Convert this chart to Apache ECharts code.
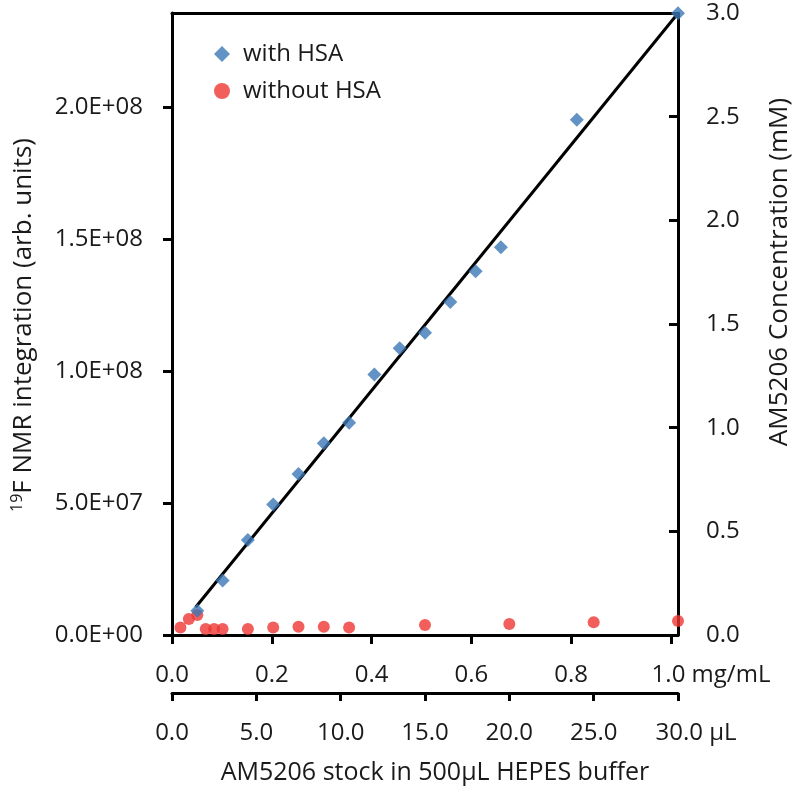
<!DOCTYPE html>
<html><head><meta charset="utf-8">
<script src="https://cdn.jsdelivr.net/npm/echarts@6/dist/echarts.min.js"></script>
<style>html,body{margin:0;padding:0;background:#fff}#c{width:800px;height:795px}</style>
</head><body><div id="c"></div>
<script>
// ---- data ----
const withHSA_uL = [1.5, 3, 4.5, 6, 7.5, 9, 10.5, 12, 13.5, 15, 16.5, 18, 19.5, 24, 30];
const withHSA_int = [9.2e6, 2.06e7, 3.6e7, 4.94e7, 6.10e7, 7.26e7, 8.04e7, 9.87e7, 1.086e8, 1.145e8, 1.261e8, 1.378e8, 1.469e8, 1.952e8, 2.355e8];
const withoutHSA_uL = [0.5, 1, 1.5, 2, 2.5, 3, 4.5, 6, 7.5, 9, 10.5, 15, 20, 25, 30];
const withoutHSA_int = [2.8e6, 6.1e6, 7.6e6, 2.3e6, 2.3e6, 2.3e6, 2.3e6, 2.8e6, 3.1e6, 3.1e6, 2.8e6, 3.8e6, 4.2e6, 4.8e6, 5.3e6];
const fit_uL = [1.4, 30];
const fit_int = [1.05e7, 2.355e8];
const mgTicks = [0, 0.2, 0.4, 0.6, 0.8, 1.0];
const uLTicks = [0, 5, 10, 15, 20, 25, 30];
const intTicks = [0, 5e7, 1e8, 1.5e8, 2e8];
const mMTicks = [0, 0.5, 1.0, 1.5, 2.0, 2.5, 3.0];

const FONT = '"Open Sans", "DejaVu Sans", sans-serif';
const TXT = '#1a1a1a';
const FS = 24;
const TFS = 25;

function sci(v) {
  if (v === 0) return '0.0E+00';
  const e = Math.floor(Math.log10(Math.abs(v)) + 1e-9);
  const m = v / Math.pow(10, e);
  return m.toFixed(1) + 'E+' + String(e).padStart(2, '0');
}
const zip = (xs, ys) => xs.map((x, i) => [x, ys[i]]);

const chart = echarts.init(document.getElementById('c'), null, { renderer: 'canvas' });
const axisLineStyle = { color: '#000', width: 3 };
chart.setOption({
  backgroundColor: '#fff',
  animation: false,
  textStyle: { fontFamily: FONT },
  grid: { left: 172, right: 122, top: 13, bottom: 160, containLabel: false },
  legend: {
    orient: 'vertical', left: 209, top: 37, itemGap: 13,
    itemWidth: 16, itemHeight: 16,
    data: ['with HSA', 'without HSA'],
    textStyle: { fontFamily: FONT, fontSize: FS, color: TXT, padding: [0, 0, 0, 8] }
  },
  xAxis: [
    {
      type: 'value', position: 'bottom', min: 0, max: 1.014,
      axisLine: { show: true, onZero: false, lineStyle: axisLineStyle },
      axisTick: { show: true, inside: false, length: 9, lineStyle: { color: '#000', width: 3 }, customValues: mgTicks },
      axisLabel: {
        customValues: mgTicks, margin: 28, fontSize: FS, color: TXT, fontFamily: FONT,
        formatter: v => v === 1 ? '{p|}{a|1.0}{u| mg/mL}' : v.toFixed(1),
        rich: { p: { width: 80, fontSize: FS }, a: { fontSize: FS, color: TXT, fontFamily: FONT }, u: { fontSize: FS, color: TXT, fontFamily: FONT } }
      },
      splitLine: { show: false }
    },
    {
      type: 'value', position: 'bottom', offset: 58, min: 0, max: 30,
      axisLine: { show: true, onZero: false, lineStyle: axisLineStyle },
      axisTick: { show: true, inside: false, length: 8, lineStyle: { color: '#000', width: 3 }, customValues: uLTicks },
      axisLabel: {
        customValues: uLTicks, margin: 28, fontSize: FS, color: TXT, fontFamily: FONT,
        formatter: v => v === 30 ? '{p|}{a|30.0}{u| µL}' : v.toFixed(1),
        rich: { p: { width: 36, fontSize: FS }, a: { fontSize: FS, color: TXT, fontFamily: FONT }, u: { fontSize: FS, color: TXT, fontFamily: FONT } }
      },
      splitLine: { show: false }
    },
    {
      type: 'value', position: 'top', min: 0, max: 30,
      axisLine: { show: true, onZero: false, lineStyle: axisLineStyle },
      axisTick: { show: false }, axisLabel: { show: false }, splitLine: { show: false }
    }
  ],
  yAxis: [
    {
      type: 'value', position: 'left', min: 0, max: 2.356e8,
      axisLine: { show: true, onZero: false, lineStyle: axisLineStyle },
      axisTick: { show: true, inside: false, length: 9, lineStyle: { color: '#000', width: 3 }, customValues: intTicks },
      axisLabel: { customValues: intTicks, margin: 29, fontSize: FS, color: TXT, fontFamily: FONT, formatter: v => sci(v) },
      splitLine: { show: false }
    },
    {
      type: 'value', position: 'right', min: 0, max: 3.0, interval: 0.5,
      axisLine: { show: true, onZero: false, lineStyle: axisLineStyle },
      axisTick: { show: true, inside: true, length: 9, lineStyle: { color: '#000', width: 3 } },
      axisLabel: { margin: 28, fontSize: FS, color: TXT, fontFamily: FONT, formatter: v => v.toFixed(1) },
      splitLine: { show: false }
    }
  ],
  series: [
    {
      name: 'fit', type: 'line', xAxisIndex: 1, yAxisIndex: 0,
      data: zip(fit_uL, fit_int), symbol: 'none', clip: false,
      lineStyle: { color: '#000', width: 3 }, z: 1
    },
    {
      name: 'with HSA', type: 'scatter', xAxisIndex: 1, yAxisIndex: 0,
      data: zip(withHSA_uL, withHSA_int), symbol: 'diamond', symbolSize: 14, clip: false,
      itemStyle: { color: '#3B78B5' }, z: 3
    },
    {
      name: 'without HSA', type: 'scatter', xAxisIndex: 1, yAxisIndex: 0,
      data: zip(withoutHSA_uL, withoutHSA_int), symbol: 'circle', symbolSize: 12, clip: false,
      itemStyle: { color: '#EE3632' }, z: 2
    }
  ],
  graphic: [
    {
      type: 'text', x: 435, y: 773,
      style: { text: 'AM5206 stock in 500µL HEPES buffer', font: TFS + 'px ' + FONT, fill: TXT, align: 'center', verticalAlign: 'middle' }
    },
    {
      type: 'text', x: 24, y: 325, rotation: Math.PI / 2,
      style: {
        text: '{s|19}{n|F NMR integration (arb. units)}', align: 'center', verticalAlign: 'middle', fill: TXT,
        rich: {
          s: { fontSize: 16, fontFamily: FONT, fill: TXT, padding: [0, 0, 14, 0] },
          n: { fontSize: TFS + 1, fontFamily: FONT, fill: TXT }
        }
      }
    },
    {
      type: 'text', x: 780, y: 272, rotation: Math.PI / 2,
      style: { text: 'AM5206 Concentration (mM)', font: (TFS + 1) + 'px ' + FONT, fill: TXT, align: 'center', verticalAlign: 'middle' }
    }
  ]
});
</script></body></html>
